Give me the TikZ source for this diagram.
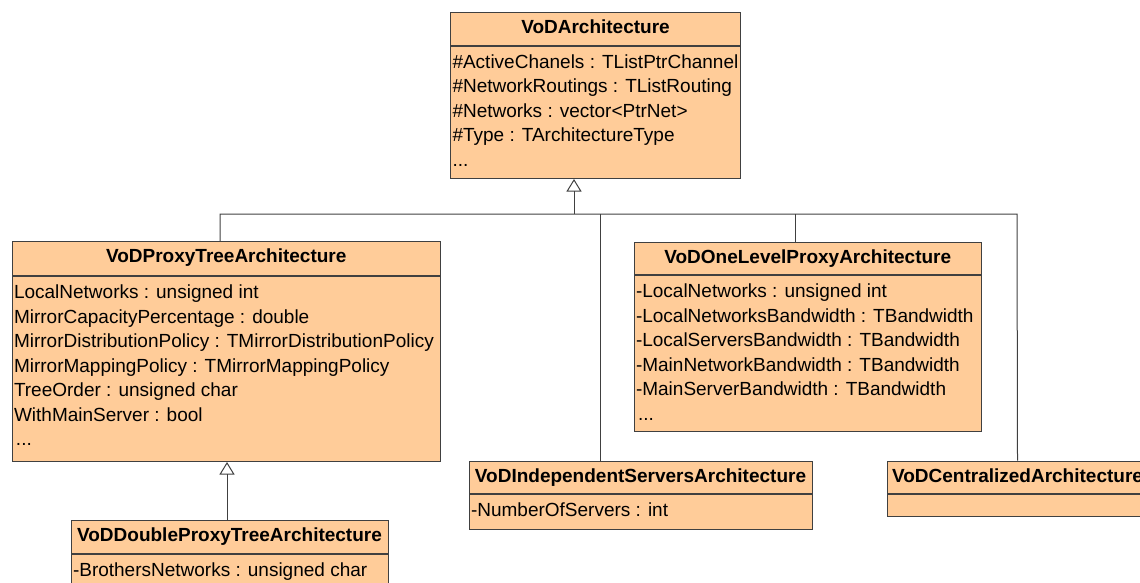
\documentclass[tikz,border=0pt]{standalone}
\usepackage{fontspec}
\setmainfont{Liberation Sans}
\usetikzlibrary{arrows.meta}

\definecolor{classfill}{RGB}{255,204,153}
\definecolor{umlline}{RGB}{64,64,64}

% class box: name, x, y, width, head height, body height, title, attributes
\newcommand\umlclass[8]{%
  \node[classhead] (#1) at (#2,#3) {\parbox[t][#5pt][t]{#4pt}{\centering\rule{0pt}{21pt}#7}};
  \node[classbody] (#1-body) at (#1.south west) {\parbox[t][#6pt][t]{#4pt}{\leftskip=2pt\rule{0pt}{22pt}#8}};
}

\tikzset{
  classhead/.style={draw=umlline, fill=classfill, line width=1pt, inner sep=0pt,
    anchor=north west, font=\fontsize{19}{24.5}\selectfont\bfseries},
  classbody/.style={classhead, font=\fontsize{19}{24.5}\selectfont},
  conn/.style={draw=umlline, line width=1pt},
  inherit/.style={-{Triangle[open,length=12.5pt,width=15pt]}}
}

\begin{document}
\begin{tikzpicture}[x=1pt, y=-1pt]
\useasboundingbox (0,0) rectangle (1140,583);
\clip (0,0) rectangle (1140,583);

\umlclass{arch}{450}{12}{290}{33}{132}{VoDArchitecture}{%
  \#ActiveChanels : TListPtrChannel\\
  \#NetworkRoutings : TListRouting\\
  \#Networks : vector<PtrNet>\\
  \#Type : TArchitectureType\\
  ...}
\umlclass{ptree}{11.5}{241}{428.5}{34}{185}{VoDProxyTreeArchitecture}{%
  LocalNetworks : unsigned int\\
  MirrorCapacityPercentage : double\\
  MirrorDistributionPolicy : TMirrorDistributionPolicy\\
  MirrorMappingPolicy : TMirrorMappingPolicy\\
  TreeOrder : unsigned char\\
  WithMainServer : bool\\
  \hspace*{2pt}...}
\umlclass{onelevel}{633.5}{241.5}{347.5}{32.5}{156}{VoDOneLevelProxyArchitecture}{%
  -LocalNetworks : unsigned int\\
  -LocalNetworksBandwidth : TBandwidth\\
  -LocalServersBandwidth : TBandwidth\\
  -MainNetworkBandwidth : TBandwidth\\
  -MainServerBandwidth : TBandwidth\\
  \hspace*{2pt}...}
\umlclass{indep}{468.5}{460.5}{343}{32.5}{35}{VoDIndependentServersArchitecture}{%
  -NumberOfServers : int}
\umlclass{central}{886.5}{460.5}{261}{32.5}{17}{VoDCentralizedArchitecture}{}
\umlclass{dptree}{70.5}{520}{317}{33}{45}{VoDDoubleProxyTreeArchitecture}{%
  -BrothersNetworks : unsigned char}

% generalisation tree
\coordinate (bus-w) at (220,214);
\coordinate (bus-e) at (1017,214);
\draw[conn] (bus-w |- ptree.north) -- (bus-w) -- (bus-e) -- (central.north);
\foreach \n/\x in {indep/600, onelevel/795} {
  \coordinate (j-\n) at (\x,214);
  \draw[conn] (j-\n) -- (j-\n |- \n.north);
}
\coordinate (j-arch) at (574,214);
\draw[conn, inherit] (j-arch) -- (j-arch |- arch-body.south);
\coordinate (j-dptree) at (227,0);
\draw[conn, inherit] (j-dptree |- dptree.north) -- (j-dptree |- ptree-body.south);
\end{tikzpicture}
\end{document}
